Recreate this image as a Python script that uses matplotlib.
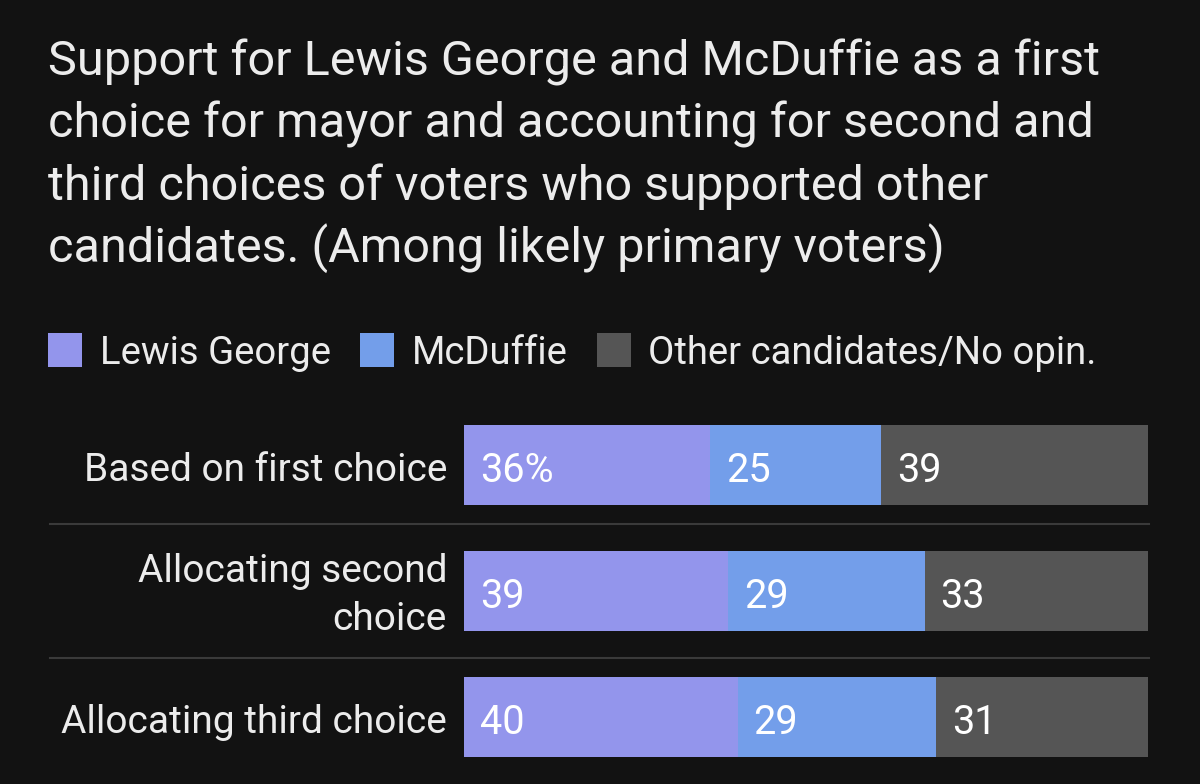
import matplotlib
matplotlib.use("Agg")
import matplotlib.pyplot as plt
from matplotlib.patches import Rectangle
from matplotlib.lines import Line2D
import matplotlib.font_manager as fm

# ---------------- data ----------------
title_lines = [
    "Support for Lewis George and McDuffie as a first",
    "choice for mayor and accounting for second and",
    "third choices of voters who supported other",
    "candidates. (Among likely primary voters)",
]
categories = ["Based on first choice", "Allocating second\nchoice", "Allocating third choice"]
series_names = ["Lewis George", "McDuffie", "Other candidates/No opin."]
lewis_george = [36, 39, 40]
mcduffie = [25, 29, 29]
other = [39, 33, 31]
value_labels = [["36%", "25", "39"], ["39", "29", "33"], ["40", "29", "31"]]

colors = ["#9395EC", "#739EEA", "#555555"]
BG = "#121212"
TXT = "#ececec"

names = {f.name for f in fm.fontManager.ttflist}
fam = [f for f in ["Liberation Sans Narrow", "Roboto", "DejaVu Sans"] if f in names]
plt.rcParams["font.family"] = fam

W, H = 1200, 784
fig = plt.figure(figsize=(W / 100, H / 100), dpi=100, facecolor=BG)

def fx(x):
    return x / W

def fy(y):
    return 1 - y / H

# title
title_baselines = [75, 138, 200, 262]
for line, yb in zip(title_lines, title_baselines):
    fig.text(fx(48), fy(yb), line, color=TXT, fontsize=35, va="baseline", ha="left")

# legend
leg_sq_x = [48, 360, 597]
leg_txt_x = [100, 412, 648]
for i, name in enumerate(series_names):
    fig.patches.append(Rectangle((fx(leg_sq_x[i]), fy(367)), 34 / W, 34 / H,
                                 transform=fig.transFigure, facecolor=colors[i],
                                 edgecolor="none"))
    fig.text(fx(leg_txt_x[i]), fy(364), name, color=TXT, fontsize=27.5,
             va="baseline", ha="left")

# bar axes: x from 464 to 1148 px; y rows centred at 465, 591.5, 717
top_px, bot_px = 402, 780
ax = fig.add_axes([fx(464), fy(bot_px), (1148 - 464) / W, (bot_px - top_px) / H])
ax.set_facecolor(BG)
ax.set_xlim(0, 1)
ax.set_ylim(2.5, -0.5)
ax.axis("off")

series = [lewis_george, mcduffie, other]
for r in range(len(categories)):
    total = sum(s[r] for s in series)
    left = 0.0
    for k, s in enumerate(series):
        w = s[r] / total
        ax.barh(r, w, left=left, height=0.635, color=colors[k], edgecolor="none")
        ax.text(left + 16 / 684, r + 0.01, value_labels[r][k], color="white",
                fontsize=28.5, va="center_baseline", ha="left")
        left += w
    n_lines = categories[r].count("\n") + 1
    ax.text(-17 / 684, r + 0.01 - 0.05 * (n_lines - 1), categories[r], color=TXT,
            fontsize=28, va="center_baseline", ha="right", linespacing=1.38)

# separators (pixel rows 524 and 658)
for ypx in [524, 658]:
    fig.lines.append(Line2D([fx(50), fx(1149)], [fy(ypx), fy(ypx)],
                            transform=fig.transFigure, color="#3a3a3a", linewidth=1.5))

fig.savefig("out.png", dpi=100, facecolor=BG)
